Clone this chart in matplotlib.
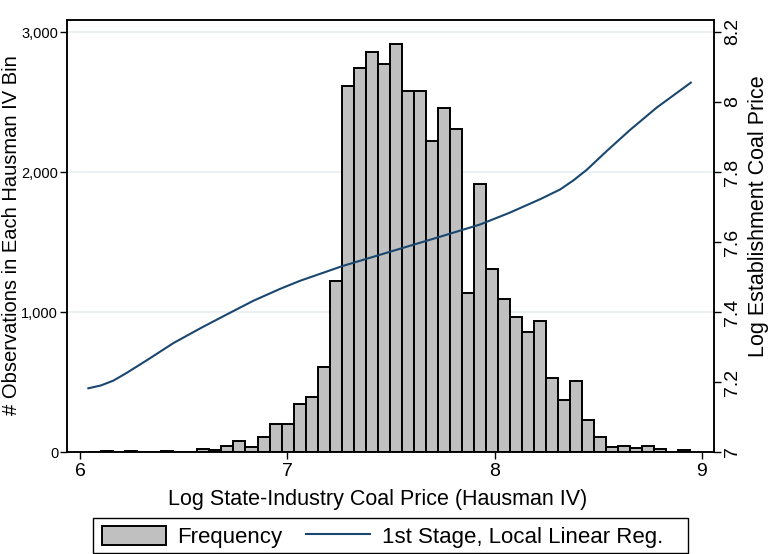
import numpy as np
import matplotlib
matplotlib.use("Agg")
import matplotlib.pyplot as plt
from matplotlib.patches import Patch, Rectangle
from matplotlib.lines import Line2D

plt.rcParams["font.family"] = ["Liberation Sans", "DejaVu Sans"]

# Histogram: 50 equal-width bins of the Hausman IV
bin_edges = np.linspace(6.044, 8.944, 51)
counts = [3, 8, 3, 8, 3, 0, 8, 0, 0, 25,
          17, 45, 78, 36, 110, 198, 203, 340, 395, 610,
          1221, 2617, 2740, 2860, 2771, 2914, 2579, 2579, 2224, 2460,
          2310, 1136, 1911, 1307, 1090, 964, 855, 938, 529, 371,
          510, 226, 105, 33, 43, 31, 40, 24, 0, 14]

# First stage local linear regression (right axis)
fit_x = [6.040, 6.100, 6.161, 6.225, 6.322, 6.450, 6.579, 6.708, 6.836, 6.965,
         7.061, 7.265, 7.737, 7.930, 8.070, 8.219, 8.316, 8.380, 8.444, 8.541,
         8.653, 8.782, 8.946]
fit_y = [7.182, 7.190, 7.204, 7.226, 7.262, 7.311, 7.353, 7.393, 7.432, 7.466,
         7.489, 7.531, 7.615, 7.650, 7.683, 7.722, 7.750, 7.776, 7.806, 7.860,
         7.920, 7.984, 8.055]

navy = "#1a476f"
bar_gray = "#c0c0c0"
grid_col = "#e8eff1"

fig = plt.figure(figsize=(7.69, 5.54), dpi=100)
ax = fig.add_axes([0.0871, 0.1841, 0.8414, 0.7798])

ax.bar(bin_edges[:-1], counts, width=np.diff(bin_edges), align="edge",
       color=bar_gray, edgecolor="black", linewidth=1.4, zorder=2)
ax.set_xlim(5.937, 9.058)
ax.set_ylim(0, 3086)
ax.set_xticks([6, 7, 8, 9])
ax.set_yticks([0, 1000, 2000, 3000])
ax.set_yticklabels(["0", "1,000", "2,000", "3,000"])
ax.yaxis.grid(True, color=grid_col, linewidth=1.2, zorder=0)
ax.set_axisbelow(True)
ax.tick_params(axis="x", direction="out", length=5.2, width=1, labelsize=14, pad=3)
ax.tick_params(axis="y", direction="out", length=4.8, width=1, labelsize=10.5, pad=1.5)
ax.set_xlabel("Log State-Industry Coal Price (Hausman IV)", fontsize=15.5)
ax.xaxis.set_label_coords(0.48, -0.085)
ax.set_ylabel("# Observations in Each Hausman IV Bin", fontsize=14.5)
ax.yaxis.set_label_coords(-0.0715, 0.503)

ax2 = ax.twinx()
ax2.plot(fit_x, fit_y, color=navy, linewidth=1.5)
ax2.set_ylim(7, 8.234)
ax2.set_yticks([7, 7.2, 7.4, 7.6, 7.8, 8, 8.2])
ax2.set_yticklabels(["7", "7.2", "7.4", "7.6", "7.8", "8", "8.2"])
ax2.tick_params(axis="y", direction="out", length=5.2, width=1, labelsize=14,
                labelrotation=90, pad=2)
for lab in ax2.get_yticklabels():
    lab.set_verticalalignment("center")
ax2.set_ylabel("Log Establishment Coal Price", fontsize=15.5)
ax2.yaxis.set_label_coords(1.052, 0.545)

for a in (ax, ax2):
    for s in a.spines.values():
        s.set_color("black")
        s.set_linewidth(1.1)

handles = [Patch(facecolor=bar_gray, edgecolor="black", linewidth=1.4),
           Line2D([0], [0], color=navy, linewidth=1.5)]
leg = fig.legend(handles, ["Frequency", "1st Stage, Local Linear Reg."],
                 loc="center left", bbox_to_anchor=(102 / 769, 0.031),
                 ncol=2, fontsize=16, frameon=False,
                 handlelength=2.9, handleheight=0.95, handletextpad=0.5,
                 columnspacing=1.05, borderpad=0, borderaxespad=0)
fig.add_artist(Rectangle((93 / 769, 1 / 554), 595 / 769, 35 / 554,
                         transform=fig.transFigure, fill=False,
                         edgecolor="black", linewidth=1.0))

fig.savefig("out.png", dpi=100)
